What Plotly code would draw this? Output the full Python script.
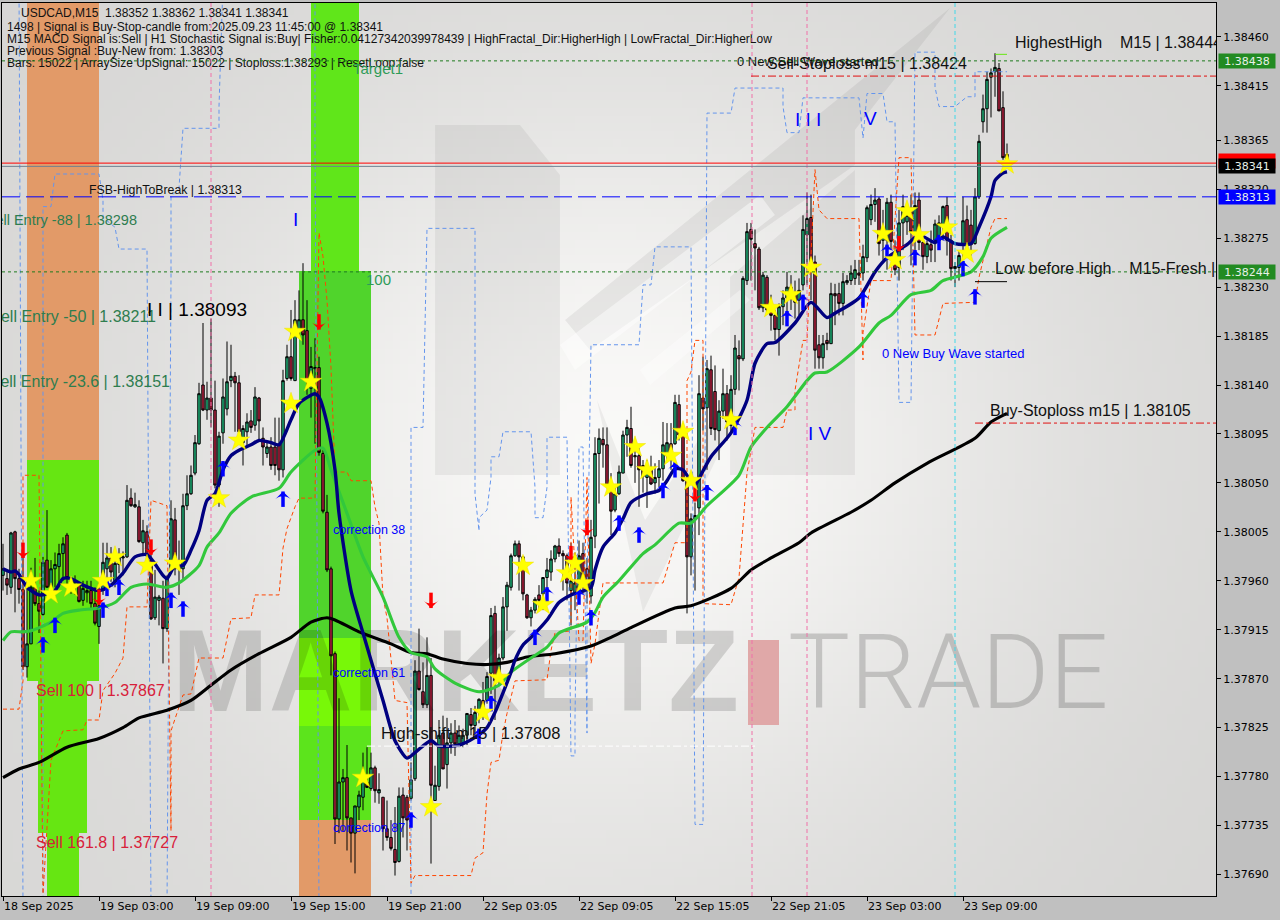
import base64, struct, zlib
import numpy as np
import plotly.graph_objects as go

# ---- chart values, price points (1e-5) ----
opens = [137965,137962,137954,138005,137962,137952,137881,137902,137954,137939,137929,137979,137954,137971,137973,137985,138002,137960,137958,137956,137942,137949,137951,137939,137918,137951,137971,137981,137960,137975,137981,137982,138036,138028,138028,137995,138005,137979,137926,137942,137944,137916,137971,138016,137971,137971,138029,138040,138059,138086,138140,138117,138128,138117,138048,138096,138118,138144,138148,138142,138087,138097,138107,138103,138128,138091,138077,138083,138083,138085,138062,138146,138166,138144,138189,138200,138190,138137,138155,138156,138077,138023,137971,137893,137741,137775,137779,137742,137728,137752,137761,137775,137769,137788,137765,137761,137732,137724,137713,137702,137763,137761,137760,137778,137877,137858,137846,137873,137758,137771,137820,137791,137811,137820,137810,137811,137818,137837,137827,137839,137850,137850,137875,137930,137868,137889,137936,137954,137983,137994,137982,137947,137926,137933,137947,137948,137963,137968,137980,137992,137985,137983,137951,137949,137951,137985,137971,137946,138001,138077,138090,138085,138048,138025,138040,138059,138094,138100,138074,138075,138066,138055,138062,138050,138055,138063,138075,138086,138086,138122,138094,138052,137982,138017,138027,138128,138119,138154,138134,138098,138116,138132,138103,138136,138167,138164,138236,138283,138270,138265,138211,138239,138213,138204,138191,138212,138220,138230,138223,138218,138232,138278,138294,138253,138177,138165,138181,138178,138224,138224,138215,138234,138236,138238,138243,138243,138257,138292,138306,138311,138273,138273,138308,138258,138248,138289,138290,138301,138280,138310,138271,138258,138269,138273,138273,138287,138305,138273,138247,138248,138269,138292,138287,138270,138313,138382,138394,138423,138428,138431,138395,138352]
highs = [137994,137970,138005,138006,137971,137991,137960,137972,137981,137951,137982,138025,137979,137986,137994,138000,138004,137963,137965,137958,137960,137960,137960,137954,137958,137995,137995,137991,137985,137990,137987,138048,138045,138041,138034,138016,138011,137997,137970,137947,137960,137965,138034,138027,137997,138040,138057,138066,138094,138142,138197,138143,138201,138144,138097,138146,138180,138177,138152,138149,138103,138114,138117,138138,138129,138101,138089,138092,138110,138110,138154,138177,138209,138218,138227,138252,138218,138175,138183,138166,138080,138039,137973,137895,137852,137787,137809,137742,137753,137767,137802,137807,137802,137790,137783,137761,137758,137740,137752,137770,137770,137763,137793,137887,137916,137885,137908,137889,137790,137832,137836,137834,137829,137832,137827,137824,137838,137843,137845,137852,137867,137876,137935,137937,137893,137945,137959,137985,137997,137997,137982,137948,137936,137945,137956,137963,137981,137988,137993,137999,137988,137985,137995,137986,137997,137995,137981,138016,138092,138100,138101,138101,138059,138048,138066,138098,138108,138120,138083,138082,138071,138071,138075,138068,138071,138106,138105,138105,138131,138131,138105,138057,138022,138032,138149,138166,138163,138167,138158,138126,138155,138140,138149,138186,138181,138240,138289,138289,138283,138267,138244,138241,138223,138209,138215,138227,138244,138241,138236,138238,138296,138317,138315,138259,138186,138186,138188,138234,138233,138234,138243,138241,138250,138255,138255,138269,138305,138315,138321,138313,138301,138312,138315,138273,138301,138315,138305,138315,138317,138317,138273,138273,138282,138292,138296,138305,138313,138278,138253,138264,138313,138305,138301,138321,138370,138407,138428,138431,138445,138436,138410,138362]
lows = [137951,137947,137948,137931,137939,137878,137871,137902,137937,137912,137928,137954,137945,137954,137954,137960,137954,137948,137947,137940,137937,137940,137935,137919,137902,137947,137958,137959,137954,137967,137965,137981,138028,138027,137995,137985,137974,137924,137924,137919,137884,137913,137967,137965,137947,137960,138025,138039,138057,138085,138116,138108,138101,138045,138028,138086,138112,138138,138097,138096,138066,138083,138096,138098,138089,138066,138073,138062,138057,138052,138055,138144,138144,138144,138186,138177,138131,138110,138086,138075,138022,137968,137873,137718,137728,137730,137712,137701,137691,137740,137749,137770,137767,137756,137755,137712,137721,137712,137689,137701,137724,137712,137758,137776,137859,137843,137843,137700,137758,137767,137787,137769,137801,137799,137807,137807,137809,137818,137818,137829,137832,137847,137856,137832,137864,137887,137914,137951,137982,137951,137942,137925,137918,137930,137933,137933,137951,137960,137977,137982,137951,137942,137919,137933,137951,137948,137939,137939,137990,138031,138064,138045,138002,138023,138039,138059,138074,138064,138050,138028,138041,138027,138048,138040,138046,138052,138071,138062,138085,138089,138051,137930,137965,137951,138002,138098,138062,138094,138089,138071,138109,138089,138097,138131,138135,138162,138232,138236,138227,138209,138207,138207,138190,138181,138167,138195,138201,138209,138201,138204,138227,138232,138218,138155,138155,138155,138172,138178,138195,138204,138204,138232,138232,138232,138232,138236,138253,138287,138290,138259,138255,138246,138264,138241,138236,138264,138278,138250,138255,138264,138246,138252,138253,138253,138269,138273,138259,138236,138230,138236,138255,138259,138259,138269,138311,138372,138372,138386,138405,138392,138347,138341]
closes = [137971,137956,138004,137962,137952,137881,137902,137954,137939,137932,137977,137954,137971,137975,137985,137994,137963,137954,137960,137941,137953,137951,137939,137921,137937,137977,137981,137968,137976,137982,137982,138034,138029,138030,137996,138006,137983,137925,137945,137945,137916,137963,138017,137971,137974,138029,138040,138057,138087,138132,138117,138128,138117,138048,138093,138129,138143,138148,138142,138097,138100,138106,138101,138129,138107,138083,138083,138066,138066,138062,138144,138166,138146,138200,138200,138186,138144,138157,138156,138078,138024,137970,137891,137741,137775,137779,137742,137728,137753,137763,137778,137770,137788,137767,137768,137732,137724,137714,137701,137762,137742,137740,137777,137877,137860,137846,137873,137772,137772,137818,137787,137811,137820,137810,137818,137818,137838,137827,137839,137851,137841,137872,137928,137868,137889,137936,137956,137983,137994,137982,137948,137926,137933,137943,137942,137963,137970,137980,137992,137985,137983,137958,137960,137958,137983,137958,137953,138000,138077,138091,138085,138048,138024,138040,138060,138094,138101,138066,138075,138062,138056,138063,138049,138055,138063,138085,138087,138080,138124,138094,138052,137982,138017,138020,138132,138118,138155,138100,138099,138116,138132,138106,138136,138174,138164,138238,138281,138274,138266,138211,138241,138209,138204,138191,138212,138220,138230,138220,138216,138227,138283,138293,138253,138172,138165,138178,138178,138224,138222,138215,138235,138236,138243,138246,138241,138258,138303,138306,138310,138270,138278,138308,138272,138246,138289,138304,138296,138281,138305,138271,138258,138270,138264,138288,138289,138304,138273,138247,138249,138259,138291,138269,138269,138313,138364,138394,138421,138427,138432,138392,138349,138341]

fast_i = [0,2,3,4,6,9,11,13,15,17,20,24,27,30,33,36,40,41,43,45,47,49,51,53,55,57,59,62,64,67,69,72,74,78,79,81,83,84,87,90,92,95,98,101,103,107,109,114,118,121,123,125,127,128,130,132,136,139,142,147,148,150,153,155,157,161,164,166,168,170,172,173,175,177,182,186,188,191,193,198,202,206,208,214,218,221,226,229,233,235,238,242,244,247,248,250,251]
fast_v = [137971,137968,137969,137966,137954,137947,137948,137951,137962,137962,137956,137951,137956,137967,137982,137984,137965,137962,137974,137974,137988,138006,138034,138040,138062,138075,138080,138085,138089,138087,138085,138108,138123,138132,138129,138105,138062,138022,137951,137912,137887,137850,137813,137797,137802,137813,137808,137809,137816,137825,137839,137857,137876,137887,137901,137908,137924,137940,137947,137954,137970,137991,138004,138017,138032,138040,138043,138052,138063,138062,138051,138048,138061,138074,138096,138126,138160,138178,138179,138197,138216,138202,138206,138220,138244,138257,138269,138278,138271,138276,138270,138270,138285,138313,138328,138335,138336]
mid_i = [0,2,5,7,12,15,19,24,28,32,36,41,44,49,51,54,57,62,69,72,78,80,82,86,90,95,99,102,106,108,113,119,124,127,132,136,139,146,148,150,154,160,163,169,172,176,184,187,191,196,201,203,206,214,219,222,227,232,235,242,245,247,251]
mid_v = [137905,137913,137913,137914,137922,137930,137933,137935,137940,137954,137957,137954,137958,137974,137991,138004,138022,138037,138045,138060,138080,138082,138062,138022,137982,137945,137908,137894,137890,137879,137866,137858,137864,137876,137889,137899,137912,137922,137931,137945,137960,137985,137993,138013,138013,138029,138057,138083,138101,138120,138144,138151,138152,138175,138197,138204,138223,138227,138236,138244,138258,138275,138285]
slow_i = [0,4,9,16,24,30,34,41,47,52,57,64,72,77,81,83,89,97,102,106,110,116,121,126,131,138,147,152,157,168,172,182,187,192,199,202,212,217,223,231,243,247,251]
slow_v = [137779,137787,137793,137807,137815,137825,137834,137841,137850,137864,137878,137893,137908,137922,137926,137924,137913,137902,137894,137893,137888,137884,137883,137885,137890,137893,137900,137908,137917,137935,137937,137953,137970,137981,137995,138004,138023,138034,138050,138068,138091,138106,138114]

upper_i = [4,5,10,10,12,13,24,25,25,28,29,36,37,41,42,42,44,45,54,54,55,78,78,79,102,102,105,106,118,118,119,119,121,122,122,124,125,132,133,133,135,136,136,141,142,143,143,144,145,146,146,147,159,160,162,163,172,173,175,176,182,183,195,195,196,199,200,214,215,216,220,221,223,224,227,228,233,233,234,238,241,243,243,251]
upper_v = [138510,137660,137660,138304,138304,138334,138334,138310,138294,138285,138265,138265,137660,137660,138238,138313,138321,138376,138376,138396,138510,138510,138361,137660,137660,138101,138101,138284,138284,138040,138006,138018,138025,138055,138074,138074,138097,138097,138046,138018,138018,138046,138092,138092,137799,137799,137834,138083,138083,137820,137942,138177,138177,138232,138232,138267,138267,137736,137736,138390,138390,138413,138413,138396,138372,138372,138404,138404,138367,138408,138408,138382,138382,138124,138124,138446,138446,138414,138396,138396,138405,138405,138428,138428]
lower_i = [0,4,5,5,9,10,12,15,20,21,24,25,28,30,31,36,37,41,42,42,45,47,49,55,57,62,63,69,70,71,73,74,78,79,80,81,82,83,86,87,92,93,94,95,96,98,101,102,103,117,118,120,121,122,124,125,126,128,136,137,138,142,142,144,145,146,147,148,150,165,166,168,171,171,172,173,175,175,182,184,186,188,195,196,198,198,200,201,203,204,206,214,215,215,217,222,224,227,228,233,235,243,244,247,248,251]
lower_v = [137842,137842,137868,138057,138057,137672,137795,137822,137823,137832,137832,137859,137875,137889,137936,137936,138034,138029,137730,137822,137855,137856,137889,137889,137925,137926,137947,137947,137990,138008,138028,138036,138036,138280,138258,138218,138156,138060,138060,138052,138052,138028,138013,137945,137926,137850,137848,137682,137689,137689,137705,137710,137764,137793,137795,137820,137838,137868,137869,137896,137912,137914,138037,137905,137905,138055,137884,137902,137958,137958,137970,137995,137995,138144,138152,138181,138181,137939,137938,137963,138059,138101,138101,138117,138117,138135,138181,138181,138338,138301,138293,138293,138163,138188,138236,138236,138349,138349,138186,138186,138215,138216,138239,138285,138293,138293]

star_i = [7,12,17,25,28,36,43,54,59,72,73,77,90,107,120,124,130,135,141,143,145,152,158,161,167,170,172,182,192,197,202,220,223,226,229,236,241,251]
star_v = [137960,137948,137954,137960,137982,137974,137976,138036,138089,138123,138189,138143,137779,137752,137839,137871,137974,137938,137967,137976,137958,138046,138083,138062,138075,138097,138052,138108,138211,138223,138248,138279,138255,138300,138278,138285,138261,138343]
buy_i = [10,13,25,26,29,42,45,55,70,102,119,122,133,136,144,147,154,159,165,168,176,183,196,200,215,221,228,234,240,243]
buy_v = [137901,137919,137933,137953,137954,137942,137934,138063,138035,137740,137817,137847,137908,137947,137945,137926,138013,138002,138043,138062,138041,138101,138201,138216,138218,138262,138257,138271,138247,138221]
sell_i = [5,24,37,79,107,142,146,173,224]
sell_v = [137988,137945,137991,138198,137942,137985,138009,138040,138270]

# horizontal levels (prices)
level_bid = 1.38344
level_last = 1.38341
level_fsb = 1.38313
level_t1 = 1.38438
level_low = 1.38244
level_sell_stop = 1.38424
level_buy_stop = 1.38105
level_shift = 1.37808
level_hh = 1.38444
level_lbh = 1.38235

y_ticks = [1.38460,1.38415,1.38365,1.38320,1.38275,1.38230,1.38185,1.38140,1.38095,1.38050,1.38005,1.37960,1.37915,1.37870,1.37825,1.37780,1.37735,1.37690]
x_tick_pos = [0,24,48,72,96,120,144,168,192,216,240]
x_tick_txt = ["18 Sep 2025","19 Sep 03:00","19 Sep 09:00","19 Sep 15:00","19 Sep 21:00","22 Sep 03:05","22 Sep 09:05","22 Sep 15:05","22 Sep 21:05","23 Sep 03:00","23 Sep 09:00"]
header_lines = ["1498 | Signal is Buy-Stop-candle from:2025.09.23 11:45:00 @ 1.38341",
                "M15 MACD Signal is:Sell | H1 Stochastic Signal is:Buy| Fisher:0.04127342039978439 | HighFractal_Dir:HigherHigh | LowFractal_Dir:HigherLow",
                "Previous Signal :Buy-New from: 1.38303",
                "Bars: 15022 | ArraySize UpSignal: 15022 | Stoploss:1.38293 | ResetLoop:false"]

# ---- frame geometry ----
L, R, T, B = 2, 1216, 3, 896
Y_TOP, Y_BOT = 1.384912, 1.376702
X_MIN, X_MAX = (L-3)/4, (R-3)/4
def dx(px): return (px-3)/4
def dy(py): return Y_TOP-(py-T)*(Y_TOP-Y_BOT)/(B-T)
def px_(x): return (x-L)/(R-L)
def py_(y): return 1-(y-T)/(B-T)
def pts(a): return [v/1e5 for v in a]

# ---- gradient background ----
W, H = 160, 115
yy, xx = np.mgrid[0:H, 0:W]
xp, yp = xx/W*1214, yy/H*893
v = np.exp(-(((xp-610)/430)**2+((yp-440)/370)**2))
base = 214+36*v+6*np.clip((yp-500)/400,0,1)*np.clip(1-np.abs(xp-500)/700,0,1)
img = np.stack([base, base-0.6, base-2], axis=-1).clip(0,255).astype(np.uint8)
raw = b"".join(b"\x00"+img[r].tobytes() for r in range(H))
def chunk(t, d):
    c = struct.pack(">I", len(d))+t+d
    return c+struct.pack(">I", zlib.crc32(t+d) & 0xffffffff)
png = b"\x89PNG\r\n\x1a\n"+chunk(b"IHDR", struct.pack(">IIBBBBB", W, H, 8, 2, 0, 0, 0))+chunk(b"IDAT", zlib.compress(raw))+chunk(b"IEND", b"")
bg_src = "data:image/png;base64,"+base64.b64encode(png).decode()

shapes = []
def rect(x0, y0, x1, y1, color, layer="below"):
    shapes.append(dict(type="rect", xref="paper", yref="paper", x0=px_(x0), x1=px_(x1), y0=py_(y0), y1=py_(y1),
                       fillcolor=color, line_width=0, layer=layer))
def poly(p, color, op):
    d = "M"+" L".join(f"{px_(a):.4f},{py_(b):.4f}" for a, b in p)+" Z"
    shapes.append(dict(type="path", xref="paper", yref="paper", path=d, fillcolor=color, opacity=op, line_width=0, layer="below"))

# logo behind the candles
poly([(435,125),(520,125),(560,175),(560,475),(435,475)], "#000000", 0.055)
poly([(730,277),(855,170),(855,475),(730,475)], "#000000", 0.055)
poly([(597,400),(643,612),(735,420),(735,385),(645,520)], "#000000", 0.05)
poly([(950,8),(565,320),(590,350),(855,165),(855,130)], "#000000", 0.06)
poly([(760,195),(560,345),(575,370),(775,215)], "#ffffff", 0.45)
poly([(740,290),(640,370),(650,385),(750,300)], "#ffffff", 0.35)

# zones
ORANGE, G1 = "#E29A68", "#66E612"
rect(27,3,99,460,ORANGE); rect(27,460,99,681,G1); rect(38,681,87,833,G1); rect(47,833,79,896,G1)
rect(311,3,359,271,"#60E61A"); rect(299,271,371,638,"#50D42C"); rect(299,638,371,726,"#78F808")
rect(299,726,371,820,"#5CE41C"); rect(299,820,371,896,ORANGE)
rect(748,640,779,725,"#E0A8A8")

def hline(y, x0, x1, color, dash, width=1):
    shapes.append(dict(type="line", xref="paper", yref="y", x0=px_(x0), x1=px_(x1), y0=y, y1=y,
                       line=dict(color=color, width=width, dash=dash), layer="above"))
def vline(x, color, dash="4px,3px"):
    shapes.append(dict(type="line", xref="paper", yref="paper", x0=px_(x), x1=px_(x), y0=0, y1=1,
                       line=dict(color=color, width=1, dash=dash), layer="above"))
vline(211,"#F070A8"); vline(752,"#F070A8"); vline(807,"#F070A8"); vline(955,"#40D8E8")
hline(level_t1,L,R,"#1E7A1E","3px,3px"); hline(level_low,L,R,"#1E7A1E","3px,3px")
hline(level_bid,L,R,"#FF0000","solid"); hline(level_last,L,R,"#708090","solid")
hline(level_fsb,L,R,"#0000FF","18px,6px")
hline(level_sell_stop,751,R,"#E01010","8px,3px,3px,3px"); hline(level_buy_stop,975,R,"#E01010","8px,3px,3px,3px")
hline(level_shift,367,755,"#FFFFFF","8px,3px,3px,3px")
hline(level_hh,995,1007,"#66E612","solid"); hline(level_lbh,975,1007,"#000000","solid")

fig = go.Figure()
xs = list(range(len(opens)))
fig.add_trace(go.Candlestick(x=xs, open=pts(opens), high=pts(highs), low=pts(lows), close=pts(closes),
    increasing=dict(line=dict(color="#000000", width=1), fillcolor="#1FB57A"),
    decreasing=dict(line=dict(color="#000000", width=1), fillcolor="#B5203F"), whiskerwidth=0, showlegend=False, hoverinfo="skip"))

def txt(s, x, y, size, color, pos="middle right", font="Liberation Sans", weight="normal"):
    fig.add_trace(go.Scatter(x=[dx(x)], y=[dy(y+1.5)], mode="text", text=[s], textposition=pos, showlegend=False,
        hoverinfo="skip", textfont=dict(size=size, color=color, family=font, weight=weight)))

# watermark first so that the lines run over it
txt("MARKETZ", 172, 680, 116, "rgba(0,0,0,0.14)", weight="bold")
txt("TRADE", 788, 680, 104, "rgba(0,0,0,0.17)", font="Roboto", weight=300)

def line(i, val, color, w, dash="solid", shape="linear"):
    fig.add_trace(go.Scatter(x=i, y=pts(val), mode="lines", line=dict(color=color, width=w, dash=dash, shape=shape, smoothing=0.7),
                             showlegend=False, hoverinfo="skip"))
line(upper_i, upper_v, "#6495ED", 1, "4px,3px")
line(lower_i, lower_v, "#FF4500", 1, "4px,3px")
line(slow_i, slow_v, "#000000", 3.1, shape="spline")
line(mid_i, mid_v, "#32C83C", 3.1, shape="spline")
line(fast_i, fast_v, "#000080", 3.4, shape="spline")

fig.add_trace(go.Scatter(x=buy_i, y=pts(buy_v), mode="markers", showlegend=False, hoverinfo="skip",
    marker=dict(symbol="line-ns", size=11, line=dict(color="#0000FF", width=3.5))))
fig.add_trace(go.Scatter(x=buy_i, y=[v/1e5+0.00007 for v in buy_v], mode="markers", showlegend=False, hoverinfo="skip",
    marker=dict(symbol="arrow-wide", size=11, color="#0000FF", angle=0)))
fig.add_trace(go.Scatter(x=sell_i, y=pts(sell_v), mode="markers", showlegend=False, hoverinfo="skip",
    marker=dict(symbol="line-ns", size=11, line=dict(color="#FF0000", width=3.5))))
fig.add_trace(go.Scatter(x=sell_i, y=[v/1e5-0.00007 for v in sell_v], mode="markers", showlegend=False, hoverinfo="skip",
    marker=dict(symbol="arrow-wide", size=11, color="#FF0000", angle=180)))
fig.add_trace(go.Scatter(x=star_i, y=pts(star_v), mode="markers", showlegend=False, hoverinfo="skip",
    marker=dict(symbol="star", size=16, color="#FFFF00", line=dict(color="#F0E000", width=0.5))))

# chart texts
txt("USDCAD,M15  1.38352 1.38362 1.38341 1.38341", 21, 12, 12, "#111111")
for k, s in enumerate(header_lines):
    txt(s, 7, 26+12*k, 12, "#111111")
DG = "#2E7D4F"; CR = "#D8203A"; BL = "#0000FF"; K = "#111111"
txt("Target1", 353, 69, 15, "#2E9B57")
txt("100", 366, 280, 15, "#2E9B57")
txt("FSB-HighToBreak | 1.38313", 89, 189, 12.3, K)
txt("Sell Entry -88 | 1.38298", 137, 220, 14.5, DG, "middle left")
txt("Sell Entry -50 | 1.38211", 156, 316, 16, DG, "middle left")
txt("Sell Entry -23.6 | 1.38151", 170, 381, 16, DG, "middle left")
txt("I I | 1.38093", 147, 310, 19, "#000000")
txt("Sell 100 | 1.37867", 36, 690, 16, CR)
txt("Sell 161.8 | 1.37727", 36, 842, 16, CR)
txt("correction 38", 333, 529, 12.5, BL)
txt("correction 61", 333, 672, 12.5, BL)
txt("correction 87", 333, 827, 12.5, BL)
txt("I", 293, 220, 19, BL)
txt("I I I", 795, 120, 19, BL)
txt("V", 864, 119, 19, BL)
txt("I V", 808, 434, 19, BL)
txt("High-shift m15 | 1.37808", 381, 733, 16.5, K)
txt("0 New Sell Wave started", 737, 61, 13, K)
txt("Sell-Stoploss m15 | 1.38424", 767, 63, 16, K)
txt("HighestHigh    M15 | 1.38444", 1015, 42, 16, K)
txt("Low before High    M15-Fresh | 1.38244", 995, 268, 16, K)
txt("0 New Buy Wave started", 882, 353, 13, BL)
txt("Buy-Stoploss m15 | 1.38105", 990, 410, 16, K)

ann = []
for val, bg, s, fc in [(level_bid+0.00002,"#FF0000","1.38344","#FF0000"),(level_t1,"#228B22","1.38438","#E8F0E8"),(level_last,"#000000","1.38341","#E8F0E8"),(level_fsb,"#0000FF","1.38313","#E8F0E8"),(level_low,"#228B22","1.38244","#E8F0E8")]:
    ann.append(dict(xref="paper", yref="y", x=px_(1218), y=val, xanchor="left", yanchor="middle", text=s, showarrow=False,
                    bgcolor=bg, width=56, height=14, align="center", borderpad=0,
                    font=dict(family="DejaVu Sans", size=11, color=fc)))

fig.update_layout(width=1280, height=920, autosize=False, margin=dict(l=L, r=1280-R, t=T, b=920-B), boxgap=0.12,
    paper_bgcolor="#C0C0C0", plot_bgcolor="#DDDDDD", showlegend=False, hovermode=False, shapes=shapes, annotations=ann,
    images=[dict(source=bg_src, xref="paper", yref="paper", x=0, y=1, sizex=1, sizey=1, sizing="stretch", layer="below", xanchor="left", yanchor="top")],
    xaxis=dict(range=[X_MIN, X_MAX], rangeslider=dict(visible=False), tickmode="array", tickvals=x_tick_pos, ticktext=x_tick_txt,
               ticks="outside", ticklen=4, tickcolor="#000", showgrid=False, zeroline=False, showline=True, linecolor="#000", linewidth=1, mirror=True,
               ticklabelposition="outside right", tickfont=dict(family="DejaVu Sans", size=11, color="#000")),
    yaxis=dict(range=[Y_BOT, Y_TOP], side="right", tickmode="array", tickvals=y_ticks, ticktext=[f"{t:.5f}" for t in y_ticks],
               ticks="outside", ticklen=4, tickcolor="#000", showgrid=False, zeroline=False, showline=True, linecolor="#000", linewidth=1, mirror=True,
               tickfont=dict(family="DejaVu Sans", size=11, color="#000")))
assert len(opens) == len(highs) == len(lows) == len(closes)
fig.write_html("out.html", post_script="document.body.style.margin='0';", config={"displayModeBar": False})
